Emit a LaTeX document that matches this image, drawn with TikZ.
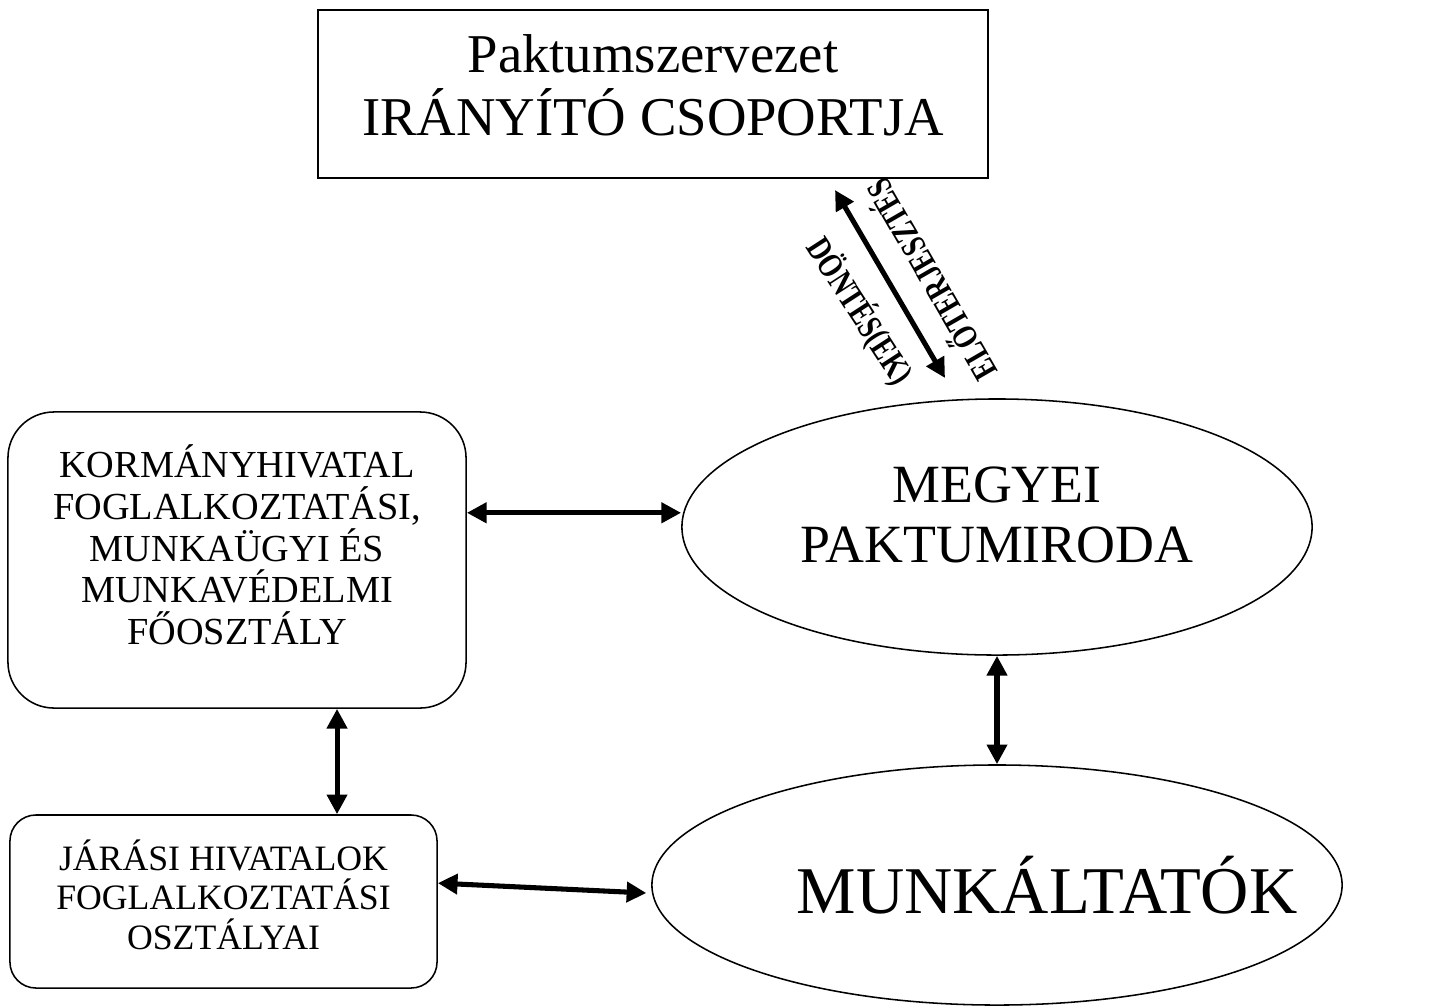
\documentclass[tikz,border=0pt]{standalone}
\usepackage{fontspec}
\setmainfont{Liberation Serif}
\usetikzlibrary{arrows.meta, positioning, shapes.geometric}

\begin{document}
\begin{tikzpicture}[x=0.025cm, y=-0.025cm,
    box/.style={draw, line width=1.1pt, inner sep=0pt},
    oval/.style={draw, ellipse, line width=1.1pt, inner sep=0pt},
    txt/.style={align=center, inner sep=0pt},
    biarrow/.style={line width=3.6pt, {Triangle[length=14pt,width=14pt]}-{Triangle[length=14pt,width=14pt]}},
    lbl/.style={font=\fontsize{25}{28}\selectfont\bfseries, inner sep=0pt}]
    \useasboundingbox (0,0) rectangle (1450,1007);

    % boxes
    \node[box, minimum width=16.75cm, minimum height=4.2cm] (iranyito) at (653,94) {};
    \node[txt, font=\fontsize{38.9}{44.6}\selectfont] (iranyitotxt) at (653,85)
          {Paktumszervezet\\IRÁNYÍTÓ CSOPORTJA};
    \node[box, rounded corners=1.15cm, minimum width=11.45cm, minimum height=7.4cm] (kormany) at (237,560) {};
    \node[txt, font=\fontsize{27.2}{29.6}\selectfont] (kormanytxt) at (237,545)
          {KORMÁNYHIVATAL\\FOGLALKOZTATÁSI,\\MUNKAÜGYI ÉS\\MUNKAVÉDELMI\\FŐOSZTÁLY};
    \node[box, rounded corners=0.65cm, minimum width=10.675cm, minimum height=4.325cm] (jarasi) at (223.5,901.5) {};
    \node[txt, font=\fontsize{25.4}{28}\selectfont] (jarasitxt) at (223.5,894.5)
          {JÁRÁSI HIVATALOK\\FOGLALKOZTATÁSI\\OSZTÁLYAI};

    % ovals
    \node[oval, minimum width=15.75cm, minimum height=6.4cm] (megyei) at (997,527) {};
    \node[txt, font=\fontsize{38.3}{42.5}\selectfont] (megyeitxt) at (997,515)
          {MEGYEI\\PAKTUMIRODA};
    \node[oval, minimum width=17.25cm, minimum height=6cm] (munkaltatok) at (997,885) {};
    \node[txt, font=\fontsize{47.5}{52}\selectfont] (munkaltatoktxt) at (1047,885)
          {MUNKÁLTATÓK};

    % arrows
    \draw[biarrow] ([yshift=1.18cm]kormany.east) -- ([yshift=1.18cm]kormany.east -| megyei.west);
    \draw[biarrow] ([xshift=2.5cm]kormany.south) -- ([xshift=2.5cm]kormany.south |- jarasi.north);
    \draw[biarrow] (megyei.south) -- (munkaltatok.north);
    \draw[biarrow] ([yshift=0.46cm]jarasi.east) -- ([xshift=-0.12cm,yshift=-0.2cm]munkaltatok.west);

    \coordinate (dtop) at (835,190);
    \coordinate (dbot) at (945,378);
    \draw[biarrow] (dtop) -- (dbot);
    \node[lbl, rotate=-57, xscale=0.76] (dontes) at (860,311) {DÖNTÉS(EK)};
    \node[lbl, rotate=120, xscale=0.76] (eloterj) at (929,281) {ELŐTERJESZTÉS};
\end{tikzpicture}
\end{document}
